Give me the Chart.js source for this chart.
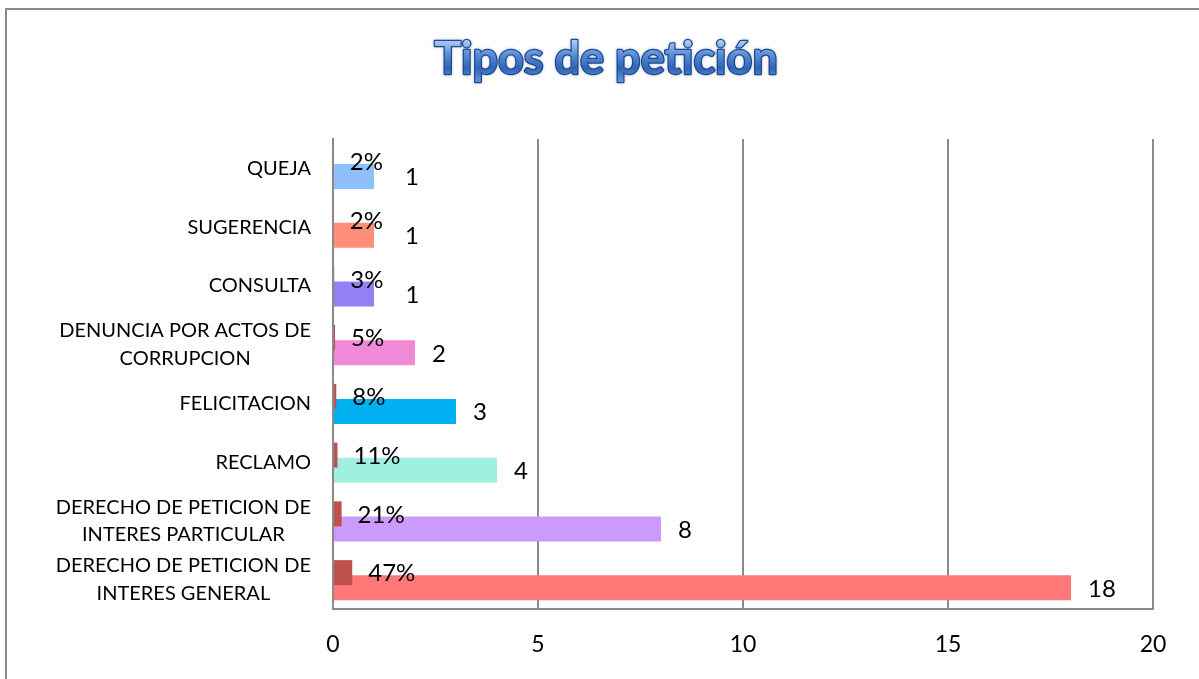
<!DOCTYPE html>
<html><head><meta charset="utf-8">
<script src="https://cdn.jsdelivr.net/npm/chart.js@4"></script>
<style>
html,body{margin:0;padding:0;background:#fff;overflow:hidden;}
#wrap{position:relative;width:1199px;height:679px;}
#frame{position:absolute;left:5px;top:8px;width:1220px;height:720px;border:2px solid #8c8c8c;box-sizing:border-box;}
canvas{position:absolute;left:0;top:0;}
</style></head><body>
<div id="wrap"><div id="frame"></div><canvas id="c" width="1199" height="679"></canvas></div>
<script>
const chartTitle = "Tipos de petición";
const categories = [
  ["QUEJA"],
  ["SUGERENCIA"],
  ["CONSULTA"],
  ["DENUNCIA POR ACTOS DE", "CORRUPCION"],
  ["FELICITACION"],
  ["RECLAMO"],
  ["DERECHO DE PETICION DE", "INTERES PARTICULAR"],
  ["DERECHO DE PETICION DE", "INTERES GENERAL"]
];
const percentages = [0.02, 0.02, 0.03, 0.05, 0.08, 0.11, 0.21, 0.47];
const counts = [1, 1, 1, 2, 3, 4, 8, 18];
const countColors = ["#8EC1FC", "#FF8F7A", "#9280F5", "#F08AD6", "#00B0F0", "#A0F0E0", "#CC99FF", "#FF7777"];
const percentColor = "#C0504D";
const xTicks = [0, 5, 10, 15, 20];

const FONT = "Lato, 'Open Sans', sans-serif";

const titlePlugin = {
  id: 'fancyTitle',
  afterDraw(chart) {
    const ctx = chart.ctx;
    ctx.save();
    ctx.font = "bold 45px " + FONT;
    ctx.textAlign = 'center';
    ctx.textBaseline = 'alphabetic';
    const x = 606, y = 74;
    const g = ctx.createLinearGradient(0, 40, 0, 80);
    g.addColorStop(0, '#b4d0f4');
    g.addColorStop(0.35, '#5b8fd8');
    g.addColorStop(0.7, '#2e64b8');
    g.addColorStop(1, '#5e8fd6');
    ctx.shadowColor = 'rgba(40,70,130,0.35)';
    ctx.shadowBlur = 3;
    ctx.lineJoin = 'round';
    ctx.strokeStyle = '#1f4a8c';
    ctx.lineWidth = 2.5;
    ctx.strokeText(chartTitle, x, y);
    ctx.shadowBlur = 0;
    ctx.fillStyle = g;
    ctx.fillText(chartTitle, x, y);
    ctx.restore();
  }
};

const catLabelPlugin = {
  id: 'catLabels',
  afterDraw(chart) {
    const ctx = chart.ctx;
    const ys = chart.scales.y;
    ctx.save();
    ctx.font = "20px " + FONT;
    ctx.fillStyle = '#000';
    ctx.textAlign = 'center';
    ctx.textBaseline = 'middle';
    const lh = 27.5;
    const rightEdge = chart.chartArea.left - 22;
    categories.forEach((lines, i) => {
      const cy = ys.getPixelForValue(i);
      const w = Math.max(...lines.map(l => ctx.measureText(l).width));
      const cx = rightEdge - w / 2;
      lines.forEach((l, j) => {
        ctx.fillText(l, cx, cy + (j - (lines.length - 1) / 2) * lh);
      });
    });
    ctx.restore();
  }
};

const dataLabelPlugin = {
  id: 'dataLabels',
  afterDatasetsDraw(chart) {
    const ctx = chart.ctx;
    const m0 = chart.getDatasetMeta(0);
    const m1 = chart.getDatasetMeta(1);
    ctx.save();
    ctx.font = "24px " + FONT;
    ctx.fillStyle = '#000';
    ctx.textAlign = 'left';
    ctx.textBaseline = 'middle';
    m0.data.forEach((el, i) => {
      const pTxt = Math.round(percentages[i] * 100) + '%';
      const px = el.x + 16;
      ctx.fillText(pTxt, px, el.y + 1);
      const pRight = px + ctx.measureText(pTxt).width;
      const cel = m1.data[i];
      let cx = cel.x + 17;
      if (cx < pRight + 20) cx = pRight + 22;
      ctx.fillText(String(counts[i]), cx, cel.y + 1);
    });
    ctx.restore();
  }
};

new Chart(document.getElementById('c'), {
  type: 'bar',
  data: {
    labels: categories,
    datasets: [
      {
        label: 'Porcentaje',
        data: percentages,
        backgroundColor: percentColor,
        borderWidth: 0,
        categoryPercentage: 0.4766,
        barPercentage: 1.786
      },
      {
        label: 'Cantidad',
        data: counts,
        backgroundColor: countColors,
        borderWidth: 0,
        categoryPercentage: 0.558,
        barPercentage: 1.524
      }
    ]
  },
  options: {
    indexAxis: 'y',
    responsive: false,
    animation: false,
    layout: { padding: { left: 0, top: 139, right: 46, bottom: 0 } },
    plugins: { legend: { display: false }, title: { display: false }, tooltip: { enabled: false } },
    scales: {
      x: {
        min: 0, max: 20,
        afterBuildTicks(scale) { scale.ticks = xTicks.map(v => ({ value: v })); },
        afterFit(scale) { scale.height = 70; },
        grid: { color: '#8a8a8a', lineWidth: 2, drawTicks: false },
        border: { color: '#8a8a8a', width: 2 },
        ticks: { font: { family: FONT, size: 23 }, color: '#000', padding: 22, maxRotation: 0 }
      },
      y: {
        afterFit(scale) { scale.width = 333; },
        grid: { display: false, drawTicks: false },
        border: { color: '#8a8a8a', width: 2 },
        ticks: { display: false }
      }
    }
  },
  plugins: [titlePlugin, catLabelPlugin, dataLabelPlugin]
});
</script>
</body></html>
